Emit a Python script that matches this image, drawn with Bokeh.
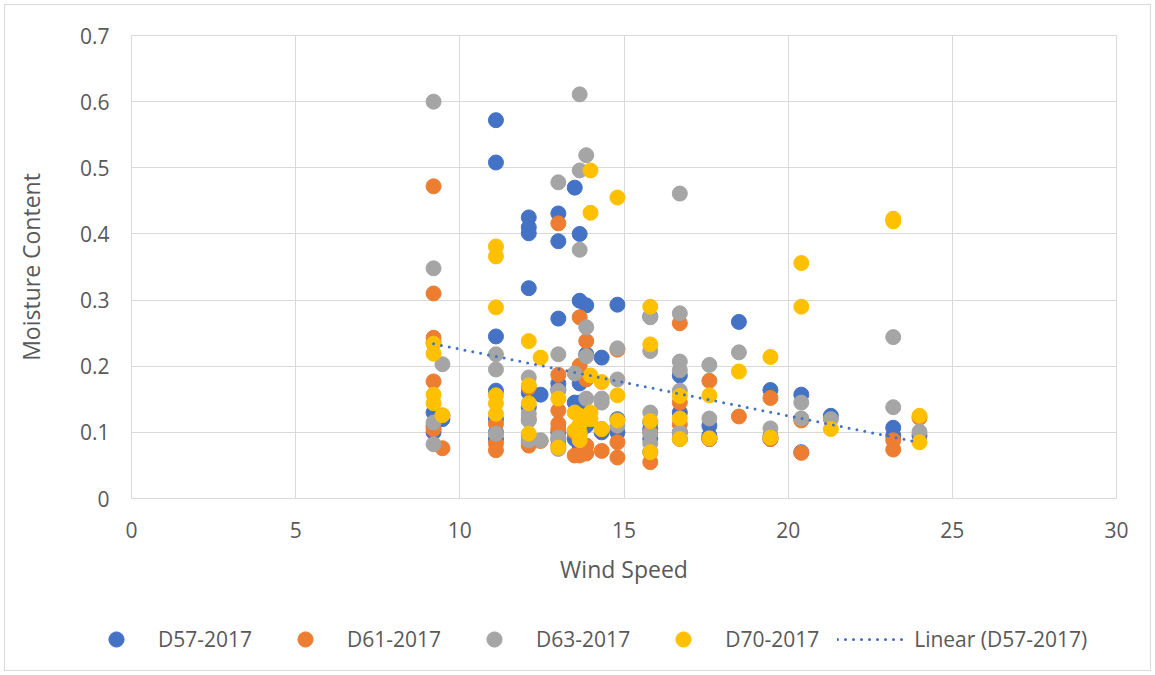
import numpy as np
from bokeh.plotting import figure
from bokeh.layouts import column, row
from bokeh.models import Legend, LegendItem, FixedTicker, Range1d
from bokeh.embed import file_html
from bokeh.resources import INLINE

# ---- data (wind speed, moisture content) ----
d57_x = [9.2, 9.2, 9.2, 9.47, 9.47,
         11.1, 11.1, 11.1, 11.1, 11.1, 11.1, 11.1,
         12.1, 12.1, 12.1, 12.1, 12.1, 12.1, 12.1, 12.1,
         12.46, 13.0, 13.0, 13.0, 13.0, 13.0, 13.0, 13.0,
         13.5, 13.5, 13.5, 13.5, 13.65, 13.65, 13.65, 13.65, 13.65, 13.65,
         13.85, 13.85, 13.85, 14.32, 14.32, 14.8, 14.8, 14.8,
         15.8, 15.8, 15.8, 15.8, 15.8, 16.7, 16.7, 16.7, 16.7,
         17.6, 17.6, 17.6, 17.6, 18.5,
         19.46, 19.46, 19.46, 20.4, 20.4, 20.4, 21.3, 23.2, 23.2, 24.0]
d57_y = [0.13, 0.11, 0.10, 0.12, 0.125,
         0.572, 0.508, 0.245, 0.163, 0.12, 0.10, 0.09,
         0.425, 0.41, 0.401, 0.318, 0.16, 0.138, 0.095, 0.085,
         0.157, 0.431, 0.389, 0.272, 0.174, 0.165, 0.10, 0.09,
         0.47, 0.145, 0.10, 0.09, 0.40, 0.299, 0.174, 0.145, 0.10, 0.08,
         0.292, 0.218, 0.11, 0.213, 0.10, 0.293, 0.12, 0.10,
         0.275, 0.115, 0.105, 0.09, 0.07, 0.186, 0.13, 0.10, 0.09,
         0.11, 0.095, 0.092, 0.09, 0.267,
         0.164, 0.094, 0.09, 0.157, 0.12, 0.07, 0.125, 0.107, 0.095, 0.095]

d61_x = [9.2, 9.2, 9.2, 9.2, 9.2, 9.2, 9.47,
         11.1, 11.1, 11.1, 12.1, 12.1, 12.1, 12.46,
         13.0, 13.0, 13.0, 13.0, 13.0, 13.0,
         13.5, 13.5, 13.65, 13.65, 13.65,
         13.85, 13.85, 13.85, 13.85, 14.32,
         14.8, 14.8, 14.8, 15.8, 15.8,
         16.7, 16.7, 16.7, 17.6, 17.6, 18.5,
         19.46, 19.46, 20.4, 20.4, 23.2, 23.2, 24.0]
d61_y = [0.472, 0.31, 0.243, 0.236, 0.177, 0.105, 0.076,
         0.113, 0.083, 0.073, 0.168, 0.12, 0.08, 0.087,
         0.416, 0.187, 0.133, 0.113, 0.105, 0.08,
         0.10, 0.065, 0.274, 0.201, 0.065,
         0.238, 0.18, 0.08, 0.068, 0.072,
         0.225, 0.085, 0.062, 0.10, 0.055,
         0.265, 0.145, 0.112, 0.178, 0.09, 0.124,
         0.152, 0.09, 0.118, 0.069, 0.088, 0.074, 0.122]

d63_x = [9.2, 9.2, 9.2, 9.2, 9.47,
         11.1, 11.1, 11.1, 12.1, 12.1, 12.1, 12.1, 12.46,
         13.0, 13.0, 13.0, 13.0, 13.0, 13.5,
         13.65, 13.65, 13.65, 13.85, 13.85, 13.85, 13.85,
         14.32, 14.32, 14.32, 14.8, 14.8, 14.8,
         15.8, 15.8, 15.8, 15.8, 15.8,
         16.7, 16.7, 16.7, 16.7, 16.7, 16.7,
         17.6, 17.6, 18.5, 19.46, 20.4, 20.4, 21.3, 23.2, 23.2, 24.0]
d63_y = [0.60, 0.348, 0.115, 0.082, 0.203,
         0.218, 0.195, 0.098, 0.183, 0.128, 0.118, 0.088, 0.088,
         0.478, 0.218, 0.163, 0.092, 0.075, 0.189,
         0.611, 0.496, 0.376, 0.519, 0.259, 0.215, 0.151,
         0.151, 0.145, 0.105, 0.227, 0.18, 0.11,
         0.274, 0.223, 0.13, 0.098, 0.083,
         0.461, 0.28, 0.207, 0.194, 0.163, 0.10,
         0.202, 0.121, 0.221, 0.106, 0.145, 0.121, 0.12, 0.244, 0.138, 0.101]

d70_x = [9.2, 9.2, 9.2, 9.2, 9.47,
         11.1, 11.1, 11.1, 11.1, 11.1, 11.1,
         12.1, 12.1, 12.1, 12.1, 12.46, 13.0, 13.0,
         13.5, 13.5, 13.65, 13.65, 13.65, 13.65, 13.65,
         13.98, 13.98, 13.98, 13.98, 13.98, 14.32, 14.32,
         14.8, 14.8, 14.8, 15.8, 15.8, 15.8, 15.8,
         16.7, 16.7, 16.7, 17.6, 17.6, 18.5, 19.46, 19.46,
         20.4, 20.4, 21.3, 23.2, 23.2, 24.0, 24.0]
d70_y = [0.234, 0.219, 0.157, 0.144, 0.126,
         0.381, 0.366, 0.289, 0.156, 0.144, 0.128,
         0.238, 0.171, 0.144, 0.098, 0.213, 0.151, 0.077,
         0.13, 0.103, 0.125, 0.112, 0.10, 0.095, 0.088,
         0.496, 0.432, 0.186, 0.13, 0.12, 0.176, 0.105,
         0.455, 0.156, 0.118, 0.29, 0.233, 0.117, 0.07,
         0.155, 0.121, 0.09, 0.156, 0.091, 0.192, 0.214, 0.092,
         0.356, 0.29, 0.105, 0.423, 0.419, 0.125, 0.085]

names = ["D57-2017", "D61-2017", "D63-2017", "D70-2017"]
trend_name = "Linear (D57-2017)"
colors = ["#4472C4", "#ED7D31", "#A5A5A5", "#FFC000"]
x_ticks = [0, 5, 10, 15, 20, 25, 30]
y_ticks = [0, 0.1, 0.2, 0.3, 0.4, 0.5, 0.6, 0.7]

FONT = "Open Sans"
TXT = "#595959"
GRID = "#d9d9d9"

# ---- main plot ----
p = figure(width=1145, height=605, output_backend="svg", toolbar_location=None,
           x_range=(0, 30), y_range=(0, 0.7),
           min_border_left=126, min_border_right=34, min_border_top=30, min_border_bottom=112)
p.outline_line_color = GRID
p.xgrid.grid_line_color = GRID
p.ygrid.grid_line_color = GRID
p.xaxis.ticker = FixedTicker(ticks=x_ticks)
p.yaxis.ticker = FixedTicker(ticks=y_ticks)
for ax in (p.xaxis[0], p.yaxis[0]):
    ax.axis_line_color = None
    ax.major_tick_line_color = None
    ax.minor_tick_line_color = None
    ax.major_tick_out = 0
    ax.major_label_text_font = FONT
    ax.major_label_text_font_size = "21px"
    ax.major_label_text_color = TXT
    ax.axis_label_text_font = FONT
    ax.axis_label_text_font_size = "23px"
    ax.axis_label_text_color = TXT
    ax.axis_label_text_font_style = "normal"
p.xaxis.axis_label = "Wind Speed"
p.yaxis.axis_label = "Moisture Content"
p.xaxis.major_label_standoff = 23
p.xaxis.axis_label_standoff = 12
p.yaxis.major_label_standoff = 22
p.yaxis.axis_label_standoff = 30

for xs, ys, c in zip([d57_x, d61_x, d63_x, d70_x], [d57_y, d61_y, d63_y, d70_y], colors):
    p.scatter(xs, ys, size=15, fill_color=c, line_color=c, line_width=1)

slope, intercept = np.polyfit(d57_x, d57_y, 1)
tx = np.array([min(d57_x), max(d57_x)])
p.line(tx, slope * tx + intercept, line_color=colors[0], line_width=3,
       line_dash="0 8", line_cap="round")

# ---- legend strip ----
q = figure(width=1145, height=60, output_backend="svg", toolbar_location=None,
           x_axis_type=None, y_axis_type=None,
           x_range=Range1d(0, 1), y_range=Range1d(0, 1),
           min_border_left=0, min_border_right=0, min_border_top=0, min_border_bottom=0)
q.outline_line_color = None
q.xgrid.visible = False
q.ygrid.visible = False
items = []
for n, c in zip(names, colors):
    r = q.scatter(x=[-5], y=[-5], size=15, fill_color=c, line_color=c)
    items.append(LegendItem(label=n, renderers=[r]))
rl = q.line(x=[-5, -4], y=[-5, -5], line_color=colors[0], line_width=3,
            line_dash="0 8", line_cap="round")
items.append(LegendItem(label=trend_name, renderers=[rl]))
legend = Legend(items=items, orientation="horizontal", location=(76, 12),
                glyph_width=70, glyph_height=38, label_standoff=7, spacing=18,
                padding=0, margin=0, border_line_color=None, background_fill_alpha=0,
                label_text_font=FONT, label_text_font_size="21px", label_text_color=TXT)
q.add_layout(legend, "center")

layout = column(p, row(q), spacing=0,
                styles={"border": "1px solid #d9d9d9", "margin": "4px 0 0 4px"})

open("out.html", "w").write(file_html(layout, INLINE))
